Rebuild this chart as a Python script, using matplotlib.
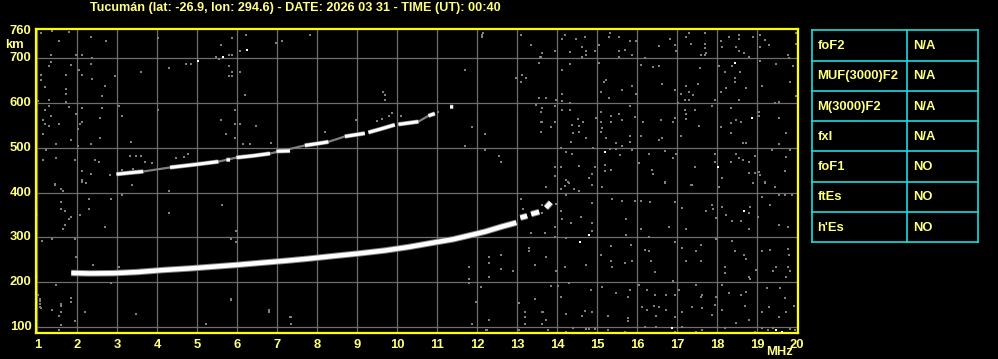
import matplotlib
matplotlib.use("Agg")
import matplotlib.pyplot as plt
import numpy as np

nan = np.nan

title = "Tucumán (lat: -26.9, lon: 294.6) - DATE: 2026 03 31 - TIME (UT): 00:40"

# main F trace (MHz, km), NaN = gap
lower_f = [1.85, 2.3, 2.9, 3.5, 4.15, 4.8, 5.4, 6.0, 6.65, 7.2, 7.8, 8.44, 9.0, 9.69, 10.3,
           10.94, 11.4, 11.78, 12.2, 12.61, 12.98, nan, 13.08, 13.25, nan, 13.35, 13.55, nan, 13.72, 13.84]
lower_h = [221, 220, 220.5, 223, 227.5, 231, 235, 239, 244, 248, 253, 259, 264, 271, 279,
           289, 296, 304, 313, 324, 333, nan, 344, 348, nan, 352, 357, nan, 366, 378]

# second hop trace
upper_f = [2.98, 3.3, 3.65, nan, 4.32, 4.9, 5.53, nan, 5.73, 5.82, nan, 5.98, 6.4, 6.82, nan,
           6.98, 7.32, nan, 7.69, 8.0, 8.28, nan, 8.69, 9.19, nan, 9.28, 9.6, 9.94, nan,
           10.03, 10.53, nan, 10.78, 10.94, nan, 11.32, 11.40]
upper_h = [441, 444, 447, nan, 456, 462, 469, nan, 473, 473, nan, 478, 482, 487, nan,
           492, 493, nan, 505, 509, 513, nan, 525, 532, nan, 534, 542, 551, nan,
           552, 558, nan, 571, 576, nan, 591, 591]

# faint echoes bridging the second-hop gaps
upper_gap_f = [3.65, 4.32, nan, 5.53, 5.98, nan, 6.82, 7.69, nan, 8.28, 8.69, nan, 10.53, 10.78]
upper_gap_h = [447, 456, nan, 469, 478, nan, 487, 505, nan, 513, 525, nan, 558, 571]

# scattered noise (gray pixels)
noise = [
    (1.09, 755), (1.38, 760), (1.79, 758), (1.55, 738), (2.34, 746), (2.73, 738), (1.96, 706), (2.13, 706),
    (2.38, 700), (1.34, 706), (1.34, 690), (1.29, 683), (1.84, 684), (2.34, 686), (2.04, 673), (2.13, 663),
    (2.38, 654), (1.73, 663), (1.09, 663), (1.09, 651), (1.19, 636), (1.73, 631), (1.73, 619), (2.94, 660),
    (3.59, 669), (2.69, 637), (2.63, 616), (1.29, 606), (1.03, 603), (1.73, 601), (1.79, 591), (2.13, 589),
    (2.63, 589), (1.29, 593), (1.19, 584), (1.34, 571), (3.04, 593), (3.13, 571), (2.58, 567), (1.15, 562),
    (1.19, 553), (1.29, 549), (1.54, 553), (1.98, 575), (2.13, 558), (2.08, 553), (2.03, 541), (1.15, 531),
    (1.84, 517), (1.48, 508), (2.34, 508), (2.58, 522), (3.34, 513), (2.03, 504), (1.23, 495), (1.15, 473),
    (1.48, 476), (1.94, 473), (2.44, 473), (2.54, 469), (2.13, 447), (2.34, 441), (2.82, 439), (2.13, 428),
    (2.23, 421), (1.44, 419), (4.01, 744), (4.30, 678), (4.73, 686), (4.84, 686), (5.46, 701), (5.54, 698),
    (5.79, 706), (5.88, 706), (5.88, 745), (6.23, 751), (5.59, 729), (6.08, 716), (5.79, 682), (5.88, 669),
    (5.79, 660), (6.08, 669), (5.88, 660), (6.19, 617), (6.98, 734), (7.13, 738), (4.03, 584), (5.59, 562),
    (5.94, 584), (5.94, 553), (6.08, 553), (6.48, 549), (5.73, 531), (5.94, 522), (6.15, 508), (6.33, 508),
    (6.84, 510), (3.32, 482), (3.48, 482), (3.59, 482), (3.69, 469), (3.88, 465), (4.48, 478), (4.68, 480),
    (4.78, 486), (3.12, 450), (3.40, 452),
    (7.83, 751), (12.11, 752), (12.11, 747), (12.15, 755), (13.09, 751), (13.34, 729), (13.63, 710),
    (13.57, 701), (13.54, 689), (11.69, 672), (12.98, 655), (13.13, 662), (13.23, 656), (13.09, 647),
    (9.65, 623), (9.69, 617), (9.69, 606), (13.54, 611), (13.48, 595), (13.61, 589), (13.59, 579),
    (13.59, 557), (13.59, 536), (8.96, 562), (9.50, 560), (9.63, 564), (9.79, 571), (9.88, 578),
    (10.09, 571), (11.03, 580), (8.19, 536), (11.88, 545), (12.19, 530), (11.69, 504), (12.19, 495),
    (12.54, 482), (12.59, 469),
    (14.19, 752), (14.13, 742), (14.48, 742), (14.69, 747), (14.63, 725), (14.33, 714), (14.73, 715),
    (14.94, 715), (14.73, 706), (14.63, 701), (13.94, 716), (13.63, 710), (13.59, 703), (15.33, 756),
    (15.29, 746), (15.54, 746), (15.04, 729), (15.54, 716), (15.69, 718), (15.83, 738), (15.98, 738),
    (15.88, 706), (15.54, 701), (16.54, 727), (16.83, 742), (16.94, 729), (16.98, 715), (17.29, 755),
    (17.23, 746), (17.34, 732), (17.69, 756), (17.69, 732), (17.69, 723), (17.73, 710), (17.59, 706),
    (17.69, 706), (18.09, 738), (18.29, 746), (18.54, 751), (18.54, 742), (18.13, 724), (18.48, 724),
    (18.54, 715), (18.67, 710), (18.79, 701), (18.90, 746), (19.08, 751), (19.19, 740), (19.29, 729),
    (19.08, 724), (19.98, 756), (19.98, 732), (19.78, 706), (19.80, 699), (16.19, 699), (15.05, 689),
    (16.09, 684), (16.40, 680), (16.54, 682), (17.58, 678), (18.04, 682), (18.38, 682), (18.19, 669),
    (18.44, 656), (18.44, 647), (18.57, 669), (19.08, 692), (19.48, 686), (19.90, 682), (14.13, 672),
    (14.33, 686), (15.23, 651), (15.18, 647), (16.63, 642), (17.23, 637), (17.53, 642), (15.88, 637),
    (15.63, 629), (15.09, 625), (16.94, 629), (17.29, 625), (17.40, 617), (17.09, 619), (18.09, 625),
    (18.23, 634), (18.73, 634), (19.11, 637), (19.83, 647), (14.13, 620), (13.73, 611), (13.98, 606),
    (14.33, 600), (14.13, 603), (15.29, 611), (15.98, 620), (17.01, 600), (17.19, 606), (17.29, 606),
    (17.94, 606), (18.54, 606), (19.44, 600), (19.54, 601), (19.98, 616), (13.61, 589), (13.94, 593),
    (14.13, 584), (14.33, 584), (15.09, 579), (15.34, 571), (15.54, 575), (15.83, 593), (15.94, 569),
    (17.19, 584), (17.44, 584), (17.23, 574), (17.88, 593), (18.34, 589), (19.04, 579), (19.04, 571),
    (19.54, 567), (13.61, 558), (13.94, 558), (14.38, 551), (14.53, 565), (14.54, 549), (14.65, 558),
    (14.98, 567), (15.09, 558), (15.13, 543), (15.34, 558), (15.63, 562), (16.14, 558), (16.59, 562),
    (16.90, 558), (16.94, 567), (17.23, 565), (17.54, 549), (18.34, 554), (18.48, 562), (18.59, 558),
    (13.84, 545), (13.59, 536), (14.40, 532), (14.54, 534), (14.73, 521), (15.09, 536), (15.83, 527),
    (16.09, 527), (16.54, 517), (16.63, 521), (17.09, 527), (18.09, 545), (18.34, 532), (19.73, 532),
    (14.34, 513), (15.23, 522), (15.46, 510), (15.83, 513), (15.63, 504), (18.65, 510), (18.73, 510),
    (19.54, 508), (14.09, 499), (14.23, 490), (14.38, 487), (14.90, 499), (15.33, 497), (15.57, 484),
    (15.48, 497), (15.88, 495), (16.29, 487), (16.69, 493), (16.90, 478), (16.98, 487), (17.94, 486),
    (17.94, 469), (18.48, 487), (18.55, 478), (18.65, 473), (18.79, 469), (18.94, 481), (19.38, 495),
    (19.73, 480), (19.83, 495), (13.94, 456), (14.09, 456), (14.54, 459), (14.94, 458), (15.19, 461),
    (15.34, 450), (16.04, 465), (16.38, 450), (16.40, 441), (17.44, 456), (18.13, 433), (18.34, 469),
    (18.80, 443), (18.94, 443), (19.05, 445), (19.08, 439), (19.69, 448), (13.94, 438), (14.23, 428),
    (14.28, 424), (14.80, 433), (14.88, 441), (15.19, 447), (16.69, 423), (17.36, 418), (19.19, 423),
    (1.44, 417), (1.59, 408), (1.64, 404), (2.13, 424), (2.23, 421), (3.38, 416), (4.29, 404), (3.13, 395),
    (2.84, 386), (2.29, 386), (1.59, 378), (5.63, 372), (1.59, 364), (1.69, 359), (2.29, 364), (2.08, 350),
    (4.29, 355), (1.84, 346), (1.79, 341), (1.69, 328), (1.64, 319), (2.69, 323), (0.99, 350), (5.98, 315),
    (5.98, 289), (5.84, 296), (1.13, 292), (1.38, 297), (1.94, 297), (1.98, 256), (2.39, 239), (3.04, 235),
    (0.99, 213), (2.84, 199), (1.48, 194), (1.03, 172), (1.08, 164), (1.07, 152), (1.09, 144), (1.59, 152),
    (1.59, 148), (1.84, 165), (1.84, 157), (1.38, 139), (2.19, 135), (1.59, 135), (1.54, 125), (1.94, 113),
    (1.59, 104), (1.54, 94), (3.48, 130), (5.23, 107), (5.84, 164), (5.84, 160), (6.79, 138), (6.79, 134),
    (13.09, 386), (13.14, 364), (13.63, 372), (13.34, 311), (13.69, 309), (13.29, 276), (13.29, 271),
    (13.44, 239), (12.29, 257), (12.29, 244), (12.59, 261), (11.79, 235), (12.59, 230), (12.90, 226),
    (11.79, 208), (11.79, 199), (12.29, 211), (12.09, 190), (11.98, 157), (13.44, 164), (13.05, 155),
    (13.19, 135), (13.19, 122), (13.19, 107), (13.63, 135), (13.63, 107), (12.29, 116), (11.88, 107),
    (12.23, 94), (13.04, 94), (7.34, 124), (7.34, 107), (7.33, 124),
    (13.73, 413), (14.09, 408), (14.19, 415), (14.22, 395), (14.30, 422), (14.43, 408), (14.54, 404),
    (14.88, 417), (15.13, 413), (13.96, 375), (13.63, 372), (13.63, 355), (14.09, 359), (14.86, 376),
    (15.38, 386), (15.63, 382), (15.94, 382), (16.09, 382), (16.32, 378), (16.94, 378), (16.69, 422),
    (17.34, 417), (18.04, 413), (18.90, 422), (19.19, 422), (19.44, 412), (19.54, 395), (19.69, 395),
    (19.88, 395), (19.12, 391), (19.32, 372), (17.73, 359), (17.88, 372), (17.89, 363), (17.98, 344),
    (18.13, 369), (18.23, 350), (18.80, 355), (18.83, 369), (19.03, 346), (17.13, 365), (14.59, 346),
    (14.88, 333), (14.34, 333), (14.13, 341), (13.94, 324), (13.69, 309), (13.94, 300), (14.23, 298),
    (14.86, 315), (15.73, 341), (15.73, 306), (16.09, 319), (16.29, 300), (16.79, 324), (17.23, 319),
    (17.98, 296), (18.38, 292), (18.38, 337), (18.59, 337), (18.79, 319), (19.54, 328), (19.77, 324),
    (13.73, 256), (13.98, 226), (14.19, 234), (14.73, 239), (15.09, 261), (15.34, 280), (15.34, 248),
    (15.38, 235), (15.69, 243), (15.84, 283), (15.88, 248), (16.19, 272), (16.29, 271), (16.34, 248),
    (16.44, 224), (16.94, 289), (17.11, 276), (17.23, 248), (17.48, 270), (17.59, 283), (17.59, 248),
    (18.19, 234), (18.19, 222), (18.44, 270), (18.67, 261), (18.73, 252), (18.79, 213), (18.98, 228),
    (19.12, 270), (19.32, 272), (19.40, 226), (19.48, 235), (19.73, 213), (19.77, 274), (19.80, 261),
    (19.77, 234), (19.83, 226), (13.84, 191), (14.03, 191), (14.09, 168), (14.30, 198), (14.84, 182),
    (15.13, 189), (15.48, 177), (15.77, 167), (15.83, 182), (16.04, 194), (16.24, 182), (16.44, 172),
    (16.73, 172), (16.90, 202), (17.05, 182), (16.94, 172), (17.48, 194), (17.63, 172), (17.59, 168),
    (17.98, 168), (18.13, 194), (18.30, 176), (18.59, 172), (18.73, 179), (18.83, 207), (19.25, 187),
    (19.58, 187), (19.69, 165), (13.65, 135), (13.73, 116), (14.22, 130), (14.63, 125), (14.69, 137),
    (14.88, 135), (15.28, 125), (15.77, 121), (15.77, 113), (16.13, 146), (16.25, 139), (16.43, 148),
    (16.55, 146), (16.47, 125), (16.73, 139), (16.94, 122), (17.13, 135), (17.38, 146), (17.63, 142),
    (17.88, 127), (17.94, 150), (18.13, 139), (18.48, 109), (18.69, 148), (18.79, 116), (19.12, 135),
    (19.29, 146), (19.54, 122), (19.73, 135), (19.92, 148), (13.78, 93), (14.22, 90), (14.80, 96),
    (14.94, 96), (15.28, 93), (15.69, 90), (16.19, 101), (16.48, 101), (17.13, 101), (17.48, 90),
    (17.63, 93), (18.19, 98), (18.94, 90), (19.12, 99), (19.28, 94), (19.40, 98), (19.83, 96),
    (19.94, 94), (14.40, 98), (14.73, 96), (16.94, 90), (1.07, 159), (1.08, 145), (1.38, 139),
    (1.59, 150), (2.19, 135), (1.55, 94), (11.88, 107), (12.29, 116), (12.24, 94),
]
noise_f = [p[0] for p in noise]
noise_h = [p[1] for p in noise]

# isolated bright echoes
white_f = [5.02, 5.65, 6.24, 18.44, 18.88, 15.19, 18.03, 14.79, 14.58, 18.68, 16.88, 19.48, 19.63]
white_h = [692, 703, 718, 689, 567, 491, 458, 306, 289, 360, 99, 94, 90]

params = ["foF2", "MUF(3000)F2", "M(3000)F2", "fxI", "foF1", "ftEs", "h'Es"]
values = ["N/A", "N/A", "N/A", "N/A", "NO", "NO", "NO"]

freq_ticks = list(range(1, 21))
height_ticks = [100, 200, 300, 400, 500, 600, 700, 760]

txt = "#ffff80"
yel = "#ffff00"
cyan = "#19dede"
grey = "#808080"
plt.rcParams["font.family"] = ["Liberation Sans", "DejaVu Sans"]

W, H = 998, 359
fig = plt.figure(figsize=(W / 100, H / 100), dpi=100, facecolor="black")
ax = fig.add_axes([35.7 / W, 1 - 333.3 / H, (798.3 - 35.7) / W, (333.3 - 29.3) / H])
ax.set_facecolor("black")
ax.set_xlim(0.96, 20.03)
ax.set_ylim(86.6, 763.7)

for f in freq_ticks:
    ax.axvline(f, color="#6e6e6e", lw=0.9, zorder=1)
for h in height_ticks[:-1]:
    ax.axhline(h, color="#6e6e6e", lw=0.9, zorder=1)

ax.scatter(noise_f, noise_h, s=3.6, marker="s", color=grey, linewidths=0, zorder=2)

ax.plot(lower_f, lower_h, color=grey, lw=4.6, solid_capstyle="butt", zorder=3)
ax.plot(lower_f, lower_h, color="white", lw=3.2, solid_capstyle="butt", zorder=4)
ax.plot(upper_gap_f, upper_gap_h, color=grey, lw=1.6, solid_capstyle="butt", zorder=3)
ax.plot(upper_f, upper_h, color=grey, lw=3.2, solid_capstyle="butt", zorder=3)
ax.plot(upper_f, upper_h, color="white", lw=2.2, solid_capstyle="butt", zorder=4)
ax.scatter(white_f, white_h, s=4, marker="s", color="white", linewidths=0, zorder=4)

ax.set_xticks([])
ax.set_yticks([])
for s in ax.spines.values():
    s.set_color(yel)
    s.set_linewidth(1.6)

fs = 9.4
for f in freq_ticks:
    ax.annotate(str(f), (f, 0), xycoords=("data", "axes fraction"), xytext=(0, -11.5),
                textcoords="offset pixels", ha="center", va="center", color=txt,
                fontsize=fs, fontweight="bold")
ax.annotate("MHz", (19.55, 0), xycoords=("data", "axes fraction"), xytext=(0, -18.5),
            textcoords="offset pixels", ha="center", va="center", color=txt,
            fontsize=fs, fontweight="bold")
for h in height_ticks:
    ax.annotate(str(h), (0, h), xycoords=("axes fraction", "data"), xytext=(-4, 0),
                textcoords="offset pixels", ha="right", va="center", color=txt,
                fontsize=fs, fontweight="bold")
fig.text(14 / W, 1 - 45 / H, "km", ha="center", va="center", color=txt,
         fontsize=fs, fontweight="bold")

fig.text(295 / W, 1 - 7.5 / H, title, ha="center", va="center", color=txt,
         fontsize=9.1, fontweight="bold")

# parameter table
tx = fig.add_axes([812.3 / W, 1 - 242.3 / H, (977.7 - 812.3) / W, (242.3 - 30.3) / H])
tx.set_xlim(0, 1)
tx.set_ylim(len(params), 0)
tx.axis("off")
tx.set_facecolor("black")
for i in range(len(params) + 1):
    tx.plot([0, 1], [i, i], color=cyan, lw=1.2, clip_on=False)
for x in (0, 0.574, 1):
    tx.plot([x, x], [0, len(params)], color=cyan, lw=1.2, clip_on=False)
for i, (p, v) in enumerate(zip(params, values)):
    tx.text(0.03, i + 0.52, p, ha="left", va="center", color=txt, fontsize=fs, fontweight="bold")
    tx.text(0.607, i + 0.52, v, ha="left", va="center", color=txt, fontsize=fs, fontweight="bold")

fig.savefig("out.png", dpi=100, facecolor="black")
